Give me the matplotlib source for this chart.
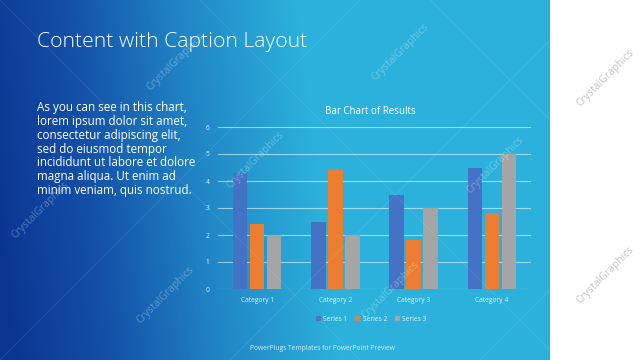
import matplotlib
matplotlib.use("Agg")
import matplotlib.pyplot as plt
import numpy as np
from matplotlib.colors import LinearSegmentedColormap

categories = ["Category 1", "Category 2", "Category 3", "Category 4"]
series_names = ["Series 1", "Series 2", "Series 3"]
series1 = [4.3, 2.5, 3.5, 4.5]
series2 = [2.4, 4.4, 1.8, 2.8]
series3 = [2.0, 2.0, 3.0, 5.0]
y_ticks = [0, 1, 2, 3, 4, 5, 6]

title = "Content with Caption Layout"
caption_lines = ["As you can see in this chart,", "lorem ipsum dolor sit amet,",
                 "consectetur adipiscing elit,", "sed do eiusmod tempor",
                 "incididunt ut labore et dolore", "magna aliqua. Ut enim ad",
                 "minim veniam, quis nostrud."]
chart_title = "Bar Chart of Results"
footer = "PowerPlugs Templates for PowerPoint Preview"
watermark = "CrystalGraphics"

colors = ["#4472C4", "#ED7D31", "#A5A5A5"]
FONT = ["Open Sans", "DejaVu Sans"]

W, H = 640, 360
fig = plt.figure(figsize=(6.4, 3.6), dpi=100)
fig.patch.set_facecolor("white")

# slide background (gradient), slide ends at x=550
bg = fig.add_axes([0, 0, 550 / W, 1])
bg.set_axis_off()
px, py = np.meshgrid(np.arange(550), np.arange(360))  # py=0 at top (origin upper)
t = np.clip((px + (360 - py) * 0.12 - 10) / 330, 0, 1)
cmap = LinearSegmentedColormap.from_list(
    "slide", [(0, "#0a3591"), (0.3, "#1450a8"), (0.65, "#2187c6"), (1, "#2bb1db")])
bg.imshow(t, cmap=cmap, aspect="auto", origin="upper", extent=[0, 1, 0, 1])
bg.set_xlim(0, 1)
bg.set_ylim(0, 1)

# overlay for text in pixel coords
ov = fig.add_axes([0, 0, 1, 1], zorder=5)
ov.set_axis_off()
ov.set_xlim(0, W)
ov.set_ylim(H, 0)

# watermark lines and text
for (x0, y0, x1, y1) in [(0, 0, 360, 360), (200, 0, 560, 360), (430, 0, 640, 210),
                         (0, 360, 360, 0), (230, 360, 590, 0), (480, 360, 640, 200)]:
    ov.plot([x0, x1], [y0, y1], color="white", alpha=0.1, lw=0.6)
for (wx, wy, c) in [(175, 62, "white"), (400, 52, "white"), (605, 78, "#bbbbbb"),
                    (255, 160, "white"), (495, 165, "white"), (40, 210, "white"),
                    (165, 295, "white"), (390, 290, "white"), (605, 275, "#bbbbbb")]:
    ov.text(wx, wy, watermark, rotation=45, color=c, alpha=0.3 if c == "white" else 0.9,
            fontsize=7.5, ha="center", va="center", family=FONT)

ov.text(37, 47.5, title, color="white", fontsize=15.2, ha="left", va="baseline",
        family=FONT, fontweight="light")
for i, line in enumerate(caption_lines):
    ov.text(37, 111 + 13.85 * i, line, color="white", fontsize=8.35, ha="left",
            va="baseline", family=FONT)
ov.text(370, 111, chart_title, color="white", fontsize=7, ha="center", va="center",
        family=FONT)
ov.text(322, 348, footer, color="#d8eef8", fontsize=4.8, ha="center", va="center",
        family=FONT)

# bar chart
ax = fig.add_axes([218 / W, 1 - 289 / H, (531 - 218) / W, (289 - 127) / H], zorder=3)
ax.patch.set_alpha(0)
x = np.arange(len(categories))
bw = 0.185
gap = 0.032
for i, (vals, name) in enumerate(zip([series1, series2, series3], series_names)):
    ax.bar(x + (i - 1) * (bw + gap), vals, bw, color=colors[i], label=name, zorder=3)
ax.set_xlim(-0.5, len(categories) - 0.5)
ax.set_ylim(0, 6)
ax.set_yticks(y_ticks)
ax.set_xticks(x)
ax.set_xticklabels(categories)
ax.grid(axis="y", color="white", alpha=0.55, lw=0.8, zorder=0)
for s in ax.spines.values():
    s.set_visible(False)
ax.tick_params(length=0, labelsize=4.8, labelcolor="#e6f4fb", pad=6)
for lab in ax.get_xticklabels() + ax.get_yticklabels():
    lab.set_family(FONT)
leg = ax.legend(loc="upper center", bbox_to_anchor=(0.49, -0.13), ncol=3, frameon=False,
                handlelength=0.7, handleheight=0.7, columnspacing=1.2,
                handletextpad=0.4, prop={"family": FONT, "size": 4.8})
for txt in leg.get_texts():
    txt.set_color("#e6f4fb")

fig.savefig("out.png", dpi=100)
